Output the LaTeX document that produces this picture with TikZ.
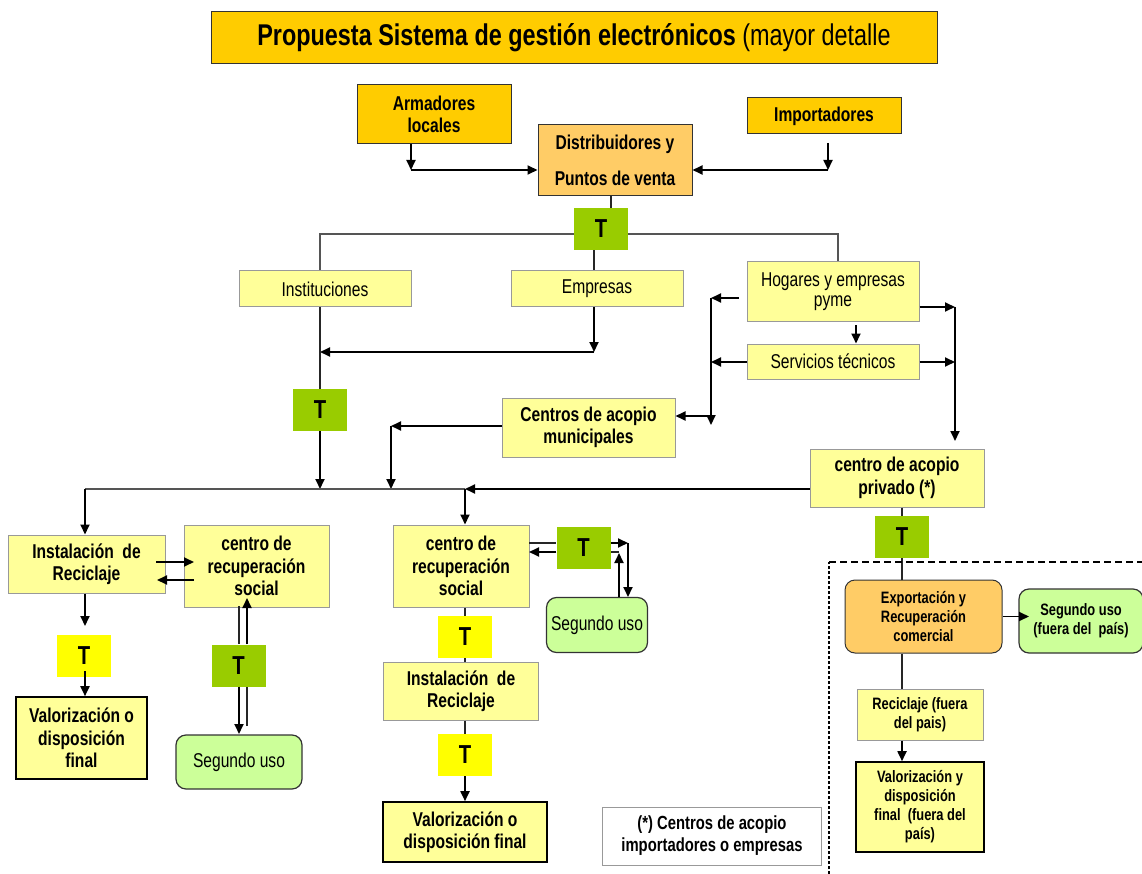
\documentclass[tikz,border=0pt]{standalone}
\usepackage{fontspec}
\setmainfont[FakeStretch=0.78]{Liberation Sans}
\usetikzlibrary{arrows.meta}
\definecolor{gold}{HTML}{FFCC00}
\definecolor{lorange}{HTML}{FFCC66}
\definecolor{lyellow}{HTML}{FFFF99}
\definecolor{tgreen}{HTML}{99CC00}
\definecolor{tyellow}{HTML}{FFFF00}
\definecolor{lgreen}{HTML}{CCFF99}
\definecolor{bgray}{HTML}{999999}
\definecolor{dgray}{HTML}{333333}
\definecolor{lgray}{HTML}{555555}
\newcommand\fB{\fontsize{20}{22.5}\selectfont\bfseries}
\newcommand\fR{\fontsize{20}{22.5}\selectfont}
\newcommand\fS{\fontsize{16.5}{19}\selectfont\bfseries}
\newcommand\fTT{\fontsize{26}{26}\selectfont\bfseries}
\newcommand\fF{\fontsize{19}{22}\selectfont\bfseries}
\tikzset{
  box/.style={rectangle, inner sep=0pt, align=center, font=\fB},
  sz/.style 2 args={minimum width=#1, minimum height=#2},
  yb/.style={box, fill=lyellow, draw=bgray, line width=1pt},
  gb/.style={box, fill=gold, draw=dgray, line width=1pt},
  ob/.style={box, fill=lorange, draw=dgray, line width=1pt},
  vb/.style={box, fill=lyellow, draw=black, line width=1.6pt},
  rb/.style={box, rounded corners=10pt, fill=lgreen, draw=dgray, line width=1.2pt},
  tg/.style={rectangle, fill=tgreen, inner sep=0pt, minimum width=54, minimum height=42, font=\fTT},
  ty/.style={tg, fill=tyellow},
  arr/.style={draw=black, line width=1.8pt, -{Triangle[length=10pt,width=9pt]}},
  gline/.style={draw=lgray, line width=1.4pt},
  bline/.style={draw=black!85, line width=1.5pt},
}
\begin{document}
\begin{tikzpicture}[x=1pt,y=-1pt]
\useasboundingbox (0,0) rectangle (1142,874);

% ---------- nodes ----------
\node[gb, sz={726}{52}, font=\fontsize{30}{30}\selectfont] (title) at (574,38)
  {\textbf{Propuesta Sistema de gestión electrónicos} (mayor detalle};
\node[gb, sz={154}{59}] (arm) at (434,114.5) {Armadores\\locales};
\node[gb, sz={154}{36}] (imp) at (824,116) {\raisebox{-2pt}{Importadores}};
\node[ob, sz={154}{71}] (dist) at (615,160.5) {Distribuidores y\\[13pt]Puntos de venta};
\node[tg] (T1) at (601,229) {T};
\node[yb, font=\fR, sz={172}{36}] (inst) at (325,289) {\raisebox{-2pt}{Instituciones}};
\node[yb, font=\fR, sz={172}{36}] (emp) at (597,289) {\raisebox{-2pt}{Empresas}};
\node[yb, font=\fR, sz={172}{59}] (hog) at (833,291.5) {Hogares y empresas\\[-2pt]pyme};
\node[yb, font=\fR, sz={172}{35}] (serv) at (833,361.5) {\raisebox{-1pt}{Servicios técnicos}};
\node[tg] (T2) at (320,410) {T};
\node[yb, sz={173}{59}] (mun) at (588.5,427.5) {Centros de acopio\\municipales};
\node[yb, sz={174}{58}] (priv) at (897,478) {centro de acopio\\privado (*)};
\node[tg] (T3) at (902,537) {T};

\node[yb, sz={157}{58}] (instL) at (86.5,564) {Instalación\ \ de\\Reciclaje};
\node[yb, sz={145}{82}] (socL) at (256.5,566) {centro de\\recuperación\\social};
\node[ty] (TL1) at (84,656) {T};
\node[vb, sz={131}{82}] (valL) at (81.5,738) {Valorización o\\disposición\\final};
\node[tg] (TL2) at (238.5,665.5) {T};
\node[rb, font=\fR, sz={126}{54}] (segL) at (239,762) {Segundo uso};

\node[yb, sz={136}{82}] (socM) at (461,566) {centro de\\recuperación\\social};
\node[tg] (TM1) at (583.5,547.5) {T};
\node[rb, font=\fR, sz={101}{55}] (segM) at (597,625) {Segundo uso};
\node[ty] (TM2) at (465,637) {T};
\node[yb, sz={155}{58}] (instM) at (461,691) {Instalación\ \ de\\Reciclaje};
\node[ty] (TM3) at (465,755) {T};
\node[vb, sz={164}{60}] (valM) at (465,832) {Valorización o\\disposición final};
\node[box, draw=bgray, line width=1pt, fill=white, font=\fF, sz={219}{58}] (foot) at (712,836)
  {(*) Centros de acopio\\importadores o empresas};

\node[ob, rounded corners=10pt, font=\fS, sz={157}{73}] (exp) at (923.5,616.5)
  {Exportación y\\Recuperación\\comercial};
\node[rb, font=\fS, sz={124}{64}] (segR) at (1081,621) {Segundo uso\\(fuera del\ \ país)};
\node[yb, font=\fS, sz={126}{51}] (recR) at (920,714.5) {Reciclaje (fuera\\del pais)};
\node[vb, font=\fS, sz={128}{90}] (valR) at (920,807) {Valorización y\\disposición\\final\ \ (fuera del\\país)};

% ---------- coordinates ----------
\coordinate (a1) at (411,170);
\coordinate (i0) at (828,143);
\coordinate (i1) at (828,170);
\coordinate (t0) at (611,200);
\coordinate (b1) at (320,234);
\coordinate (b2) at (838,234);
\coordinate (e1) at (594,260);
\coordinate (e2) at (594,352);
\coordinate (c1) at (320,352);
\coordinate (h0) at (739,298);
\coordinate (h1) at (711,298);
\coordinate (h2) at (711,362);
\coordinate (h3) at (711,416);
\coordinate (h4) at (711,425);
\coordinate (s1) at (856,325);
\coordinate (r1) at (955,307);
\coordinate (r2) at (955,362);
\coordinate (r3) at (955,441);
\coordinate (m1) at (391,426);
\coordinate (m2) at (391,489);
\coordinate (L0) at (85,489);
\coordinate (M0) at (465,489);
\coordinate (l1) at (85,626);
\coordinate (l2) at (85,671);
\coordinate (p1) at (156,562);
\coordinate (p2) at (194,562);
\coordinate (p3) at (194,580);
\coordinate (p4) at (157,580);
\coordinate (q1) at (239,606);
\coordinate (q2) at (239,734);
\coordinate (q3) at (247,726);
\coordinate (q4) at (247,598);
\coordinate (u1) at (628,543);
\coordinate (u2) at (628,597);
\coordinate (u3) at (619,597);
\coordinate (u4) at (619,553);
\coordinate (u5) at (619,552);
\coordinate (v1) at (529,543);
\coordinate (v2) at (529,552);
\coordinate (x1) at (902,700);
\coordinate (sr) at (1029,616.5);
\coordinate (d0) at (829,874);
\coordinate (d1) at (829,562);
\coordinate (d2) at (1142,562);

% ---------- connectors: top ----------
\draw[arr] (arm.south -| a1) -- (a1);
\draw[arr] (a1) -- (dist.west |- a1);
\draw[arr] (i0) -- (i1);
\draw[arr] (i1) -- (dist.east |- i1);
\draw[bline] (dist.south -| t0) -- (T1.north -| t0);
\draw[gline] (inst.north -| b1) -- (b1) -- (T1.west |- b1);
\draw[gline] (T1.east |- b2) -- (b2) -- (hog.north -| b2);
\draw[bline] (T1.south -| e1) -- (emp.north -| e1);

% ---------- connectors: middle ----------
\draw[arr] (emp.south -| e2) -- (e2);
\draw[arr] (e2) -- (c1);
\draw[bline] (inst.south -| T2.north) -- (T2.north);
\draw[arr] (T2.south) -- (T2.south |- L0);
\draw[arr] (h0) -- (h1);
\draw[arr] (serv.west |- h2) -- (h2);
\draw[arr] (h1) -- (h4);
\draw[arr] (h3) -- (mun.east |- h3);
\draw[arr] (s1) -- (serv.north -| s1);
\draw[arr] (hog.east |- r1) -- (r1);
\draw[arr] (serv.east |- r2) -- (r2);
\draw[arr] (r1) -- (r3);
\draw[arr] (mun.west |- m1) -- (m1);
\draw[arr] (m1) -- (m2);
\draw[gline] (L0) -- (M0);
\draw[arr] (priv.west |- M0) -- (M0);
\draw[arr] (M0) -- (socM.north -| M0);
\draw[arr] (L0) -- (instL.north -| L0);

% ---------- connectors: left ----------
\draw[arr] (p1) -- (p2);
\draw[arr] (p3) -- (p4);
\draw[arr] (instL.south -| l1) -- (l1);
\draw[arr] (l2) -- (valL.north -| l2);
\draw[bline] (q1) -- (TL2.north -| q1);
\draw[arr] (TL2.south -| q1) -- (q2);
\draw[bline] (q3) -- (TL2.south -| q3);
\draw[arr] (TL2.north -| q3) -- (q4);

% ---------- connectors: centre ----------
\draw[bline] (v1) -- (TM1.west |- v1);
\draw[arr] (TM1.east |- u1) -- (u1);
\draw[arr] (u1) -- (u2);
\draw[arr] (u3) -- (u4);
\draw[bline] (u5) -- (TM1.east |- u5);
\draw[arr] (TM1.west |- v2) -- (v2);
\draw[bline] (socM.south -| TM2.north) -- (TM2.north);
\draw[bline] (TM2.south) -- (instM.north -| TM2.south);
\draw[bline] (instM.south -| TM3.north) -- (TM3.north);
\draw[arr] (TM3.south) -- (valM.north -| TM3.south);

% ---------- connectors: right ----------
\draw[bline] (priv.south -| T3.north) -- (T3.north);
\draw[bline] (T3.south) -- (exp.north -| T3.south);
\draw[arr] (exp.east) -- (sr);
\draw[bline] (exp.south -| x1) -- (recR.north -| x1);
\draw[arr] (recR.south -| x1) -- (valR.north -| x1);
\draw[line width=1.6pt, dash pattern=on 3pt off 2pt] (d0) -- (d1);
\draw[line width=1.6pt, dash pattern=on 7pt off 4pt] (d1) -- (d2);
\end{tikzpicture}
\end{document}
